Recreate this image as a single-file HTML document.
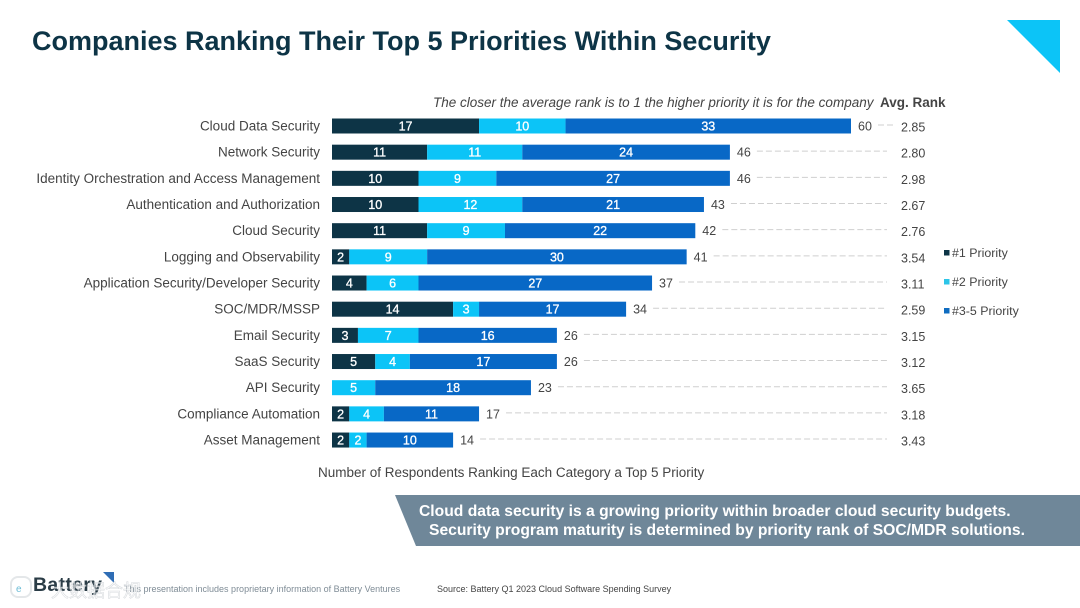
<!DOCTYPE html>
<html lang="en">
<head>
<meta charset="utf-8">
<title>Companies Ranking Their Top 5 Priorities Within Security</title>
<style>
html,body{margin:0;padding:0;background:#fff;}
svg{display:block;font-family:"Liberation Sans","Noto Sans CJK SC",sans-serif;filter:blur(0.35px);}
</style>
</head>
<body>
<svg id="slide" width="1080" height="608" viewBox="0 0 1080 608" xmlns="http://www.w3.org/2000/svg">
  <rect x="0" y="0" width="1080" height="608" fill="#ffffff"/>
  <text x="32" y="50" font-size="27" font-weight="700" fill="#0d3446">Companies Ranking Their Top 5 Priorities Within Security</text>
  <polygon points="1007,20 1060,20 1060,73" fill="#0cc4f7"/>
  <text x="433" y="107" font-size="13.5" font-style="italic" fill="#444444">The closer the average rank is to 1 the higher priority it is for the company</text>
  <text x="880" y="107" font-size="13.5" font-weight="700" fill="#444444">Avg. Rank</text>
  <g id="chart"></g>
  <text x="318" y="477" font-size="13.5" fill="#444444">Number of Respondents Ranking Each Category a Top 5 Priority</text>

  <g>
    <g>
      <rect x="944" y="250" width="5.500" height="5.500" fill="#0d3446"/>
      <text x="952" y="257" font-size="12.4" fill="#444444">#1 Priority</text>
    </g>
    <g>
      <rect x="944" y="279" width="5.500" height="5.500" fill="#2cc5e8"/>
      <text x="952" y="286" font-size="12.4" fill="#444444">#2 Priority</text>
    </g>
    <g>
      <rect x="944" y="308" width="5.500" height="5.500" fill="#0f6cc0"/>
      <text x="952" y="315" font-size="12.4" fill="#444444">#3-5 Priority</text>
    </g>
  </g>

  <g>
    <polygon points="395,495 1080,495 1080,546 416,546" fill="#6f8799"/>
    <text x="419" y="516" font-size="15.66" font-weight="700" fill="#ffffff">Cloud data security is a growing priority within broader cloud security budgets.</text>
    <text x="429" y="535" font-size="15.66" font-weight="700" fill="#ffffff">Security program maturity is determined by priority rank of SOC/MDR solutions.</text>
  </g>

  <g>
    <text x="33" y="591" font-size="19.5" font-weight="700" fill="#2a3c46" letter-spacing="0.3">Battery</text>
    <polygon points="103,572 114,572 114,583" fill="#2f6db5"/>
    <text x="124" y="592" font-size="9" fill="#7f8c96">This presentation includes proprietary information of Battery Ventures</text>
    <text x="437" y="592" font-size="9" fill="#444444">Source: Battery Q1 2023 Cloud Software Spending Survey</text>
    <g opacity="0.7">
      <rect x="11" y="577" width="20" height="20" rx="7" fill="none" stroke="#d9dde0" stroke-width="2"/>
      <text x="16" y="592" font-size="10" fill="#2a9fc4">e</text>
      <text x="51" y="597" font-size="18" fill="#ffffff" stroke="#c9ced2" stroke-width="0.6">大数据合规</text>
    </g>
  </g>
</svg>

<script>
const categories = [
  "Cloud Data Security", "Network Security", "Identity Orchestration and Access Management",
  "Authentication and Authorization", "Cloud Security", "Logging and Observability",
  "Application Security/Developer Security", "SOC/MDR/MSSP", "Email Security",
  "SaaS Security", "API Security", "Compliance Automation", "Asset Management"
];
const priority1 = [17, 11, 10, 10, 11, 2, 4, 14, 3, 5, 0, 2, 2];
const priority2 = [10, 11, 9, 12, 9, 9, 6, 3, 7, 4, 5, 4, 2];
const priority35 = [33, 24, 27, 21, 22, 30, 27, 17, 16, 17, 18, 11, 10];
const avgRank = ["2.85", "2.80", "2.98", "2.67", "2.76", "3.54", "3.11", "2.59", "3.15", "3.12", "3.65", "3.18", "3.43"];

const NS = "http://www.w3.org/2000/svg";
const chart = document.getElementById("chart");
const xScale = function (v) { return 332 + v * 8.65; };
const yScale = function (i) { return 126 + i * 26.17; };
const barHeight = 15;

function make(tag, attrs, content) {
  const el = document.createElementNS(NS, tag);
  Object.keys(attrs).forEach(function (k) { el.setAttribute(k, attrs[k]); });
  if (content !== undefined) el.textContent = content;
  chart.appendChild(el);
  return el;
}

categories.forEach(function (name, i) {
  const y = yScale(i);
  const label = make("text", { x: 320, y: y + 4.5, "text-anchor": "end", "font-size": 13.5, fill: "#444444" }, name);
  
  

  const series = [
    { value: priority1[i], color: "#0d3446" },
    { value: priority2[i], color: "#0cc4f7" },
    { value: priority35[i], color: "#0868c6" }
  ];
  let run = 0;
  series.forEach(function (s) {
    if (s.value > 0) {
      const x0 = xScale(run);
      const x1 = xScale(run + s.value);
      const bar = make("rect", { x: x0, y: y - barHeight / 2, width: x1 - x0, height: barHeight, fill: s.color });
      
      
      const value = make("text", { x: (x0 + x1) / 2, y: y + 4.5, "text-anchor": "middle", "font-size": 12.5, fill: "#ffffff", stroke: "#ffffff", "stroke-width": 0.3 }, s.value);
      
      
    }
    run += s.value;
  });

  const endX = xScale(run);
  const total = make("text", { x: endX + 7, y: y + 4.5, "font-size": 12.5, fill: "#444444" }, run);
  
  

  const leaderStart = endX + 27;
  const leaderEnd = Math.max(887, leaderStart + 16);
  const leader = make("line", { x1: leaderStart, y1: y - 1, x2: leaderEnd, y2: y - 1, stroke: "#cfcfcf", "stroke-width": 1, "stroke-dasharray": "6 3" });
  
  

  const rank = make("text", { x: 901, y: y + 5.5, "font-size": 12.5, fill: "#444444" }, avgRank[i]);
  
  
});
</script>
</body>
</html>
